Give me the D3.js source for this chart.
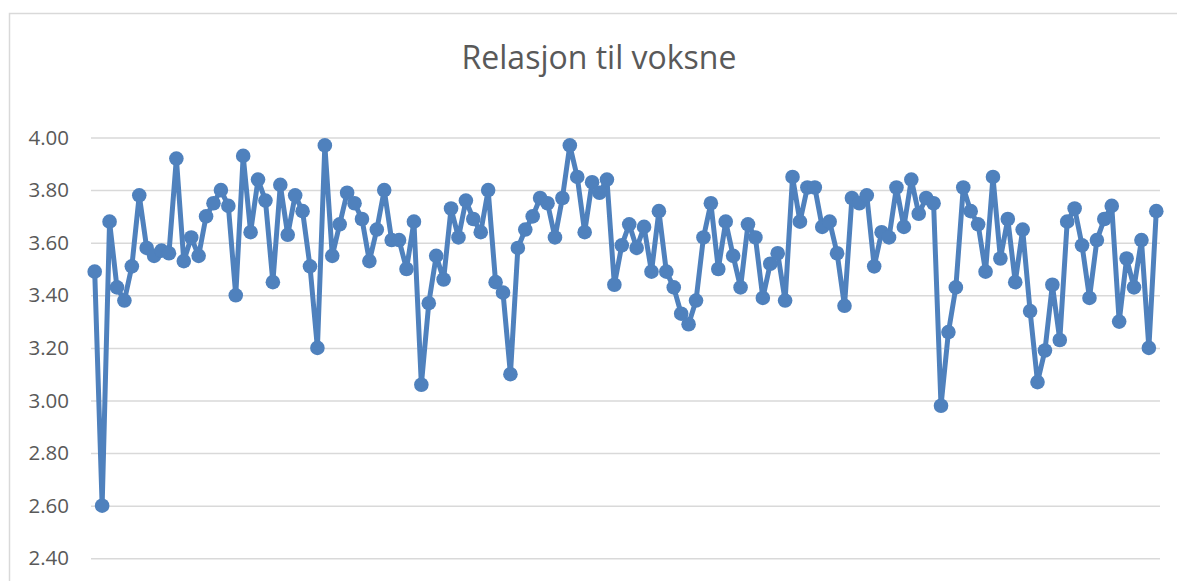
<!DOCTYPE html>
<html>
<head>
<meta charset="utf-8">
<script src="https://cdn.jsdelivr.net/npm/d3@7"></script>
<style>
  body { margin: 0; background: #fff; }
  svg { display: block; }
</style>
</head>
<body>
<div id="container"></div>
<script>
// values, one per respondent/group (144 points)
var values = [
  3.49, 2.60, 3.68, 3.43, 3.38, 3.51, 3.78, 3.58, 3.55, 3.57,
  3.56, 3.92, 3.53, 3.62, 3.55, 3.70, 3.75, 3.80, 3.74, 3.40,
  3.93, 3.64, 3.84, 3.76, 3.45, 3.82, 3.63, 3.78, 3.72, 3.51,
  3.20, 3.97, 3.55, 3.67, 3.79, 3.75, 3.69, 3.53, 3.65, 3.80,
  3.61, 3.61, 3.50, 3.68, 3.06, 3.37, 3.55, 3.46, 3.73, 3.62,
  3.76, 3.69, 3.64, 3.80, 3.45, 3.41, 3.10, 3.58, 3.65, 3.70,
  3.77, 3.75, 3.62, 3.77, 3.97, 3.85, 3.64, 3.83, 3.79, 3.84,
  3.44, 3.59, 3.67, 3.58, 3.66, 3.49, 3.72, 3.49, 3.43, 3.33,
  3.29, 3.38, 3.62, 3.75, 3.50, 3.68, 3.55, 3.43, 3.67, 3.62,
  3.39, 3.52, 3.56, 3.38, 3.85, 3.68, 3.81, 3.81, 3.66, 3.68,
  3.56, 3.36, 3.77, 3.75, 3.78, 3.51, 3.64, 3.62, 3.81, 3.66,
  3.84, 3.71, 3.77, 3.75, 2.98, 3.26, 3.43, 3.81, 3.72, 3.67,
  3.49, 3.85, 3.54, 3.69, 3.45, 3.65, 3.34, 3.07, 3.19, 3.44,
  3.23, 3.68, 3.73, 3.59, 3.39, 3.61, 3.69, 3.74, 3.30, 3.54,
  3.43, 3.61, 3.20, 3.72
];
var categories = values.map(function (d, i) { return i + 1; });
var yTicks = [2.40, 2.60, 2.80, 3.00, 3.20, 3.40, 3.60, 3.80, 4.00];
var title = "Relasjon til voksne";

var W = 1177, H = 581;
var blue = "#4f81bd";
var grey = "#595959";

var svg = d3.select("#container").append("svg")
  .attr("width", W)
  .attr("height", H);

// chart frame (right and bottom edge are outside the picture)
svg.append("path")
  .attr("d", "M9.5," + H + "V13.5H" + W)
  .attr("fill", "none")
  .attr("stroke", "#d9d9d9")
  .attr("stroke-width", 1.5);

svg.append("text")
  .attr("x", 599)
  .attr("y", 69)
  .attr("text-anchor", "middle")
  .attr("font-family", "Open Sans, sans-serif")
  .attr("font-size", 32)
  .attr("fill", grey)
  .text(title);

var x = d3.scalePoint()
  .domain(categories)
  .range([91, 1160])
  .padding(0.5);

var y = d3.scaleLinear()
  .domain([2.4, 4.0])
  .range([558.3, 137.5]);

// y axis with grid lines
var yAxis = d3.axisLeft(y)
  .tickValues(yTicks)
  .tickFormat(d3.format(".2f"))
  .tickSize(-(1160 - 91))
  .tickPadding(22);

var gy = svg.append("g")
  .attr("transform", "translate(91,0)")
  .call(yAxis);
gy.select(".domain").remove();
gy.selectAll(".tick line")
  .attr("stroke", "#d9d9d9")
  .attr("stroke-width", 1.5);
gy.selectAll(".tick text")
  .attr("fill", grey)
  .attr("font-family", "Open Sans, sans-serif")
  .attr("font-size", 20.5);

var line = d3.line()
  .x(function (d, i) { return x(categories[i]); })
  .y(function (d) { return y(d); });

svg.append("path")
  .datum(values)
  .attr("d", line)
  .attr("fill", "none")
  .attr("stroke", blue)
  .attr("stroke-width", 5)
  .attr("stroke-linejoin", "round");

svg.append("g").selectAll("circle")
  .data(values)
  .enter().append("circle")
  .attr("cx", function (d, i) { return x(categories[i]); })
  .attr("cy", function (d) { return y(d); })
  .attr("r", 7.3)
  .attr("fill", blue);
</script>
</body>
</html>
